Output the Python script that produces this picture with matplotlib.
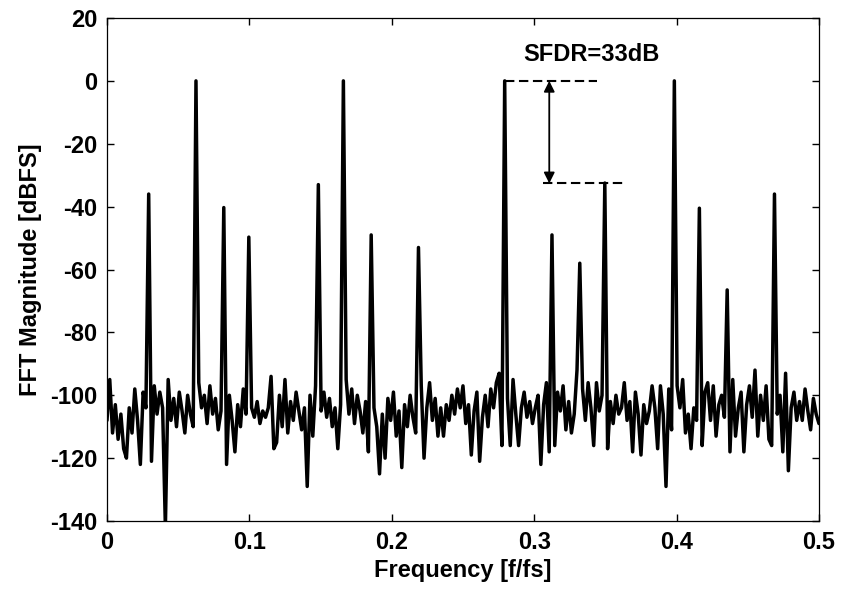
import numpy as np
import matplotlib
matplotlib.use('Agg')
import matplotlib.pyplot as plt

plt.rcParams['font.family'] = ['Liberation Sans', 'DejaVu Sans']
plt.rcParams['font.weight'] = 'bold'
plt.rcParams['axes.unicode_minus'] = False

# FFT bins 0..256 of a 512-point record, f = k / 512
N_FFT = 512

# noise floor, dBFS per bin (rows of 16 bins)
noise_db = [
    -108, -95, -112, -103, -114, -106, -117, -120, -104, -112, -98, -108, -122, -99, -104, -105,
    -121, -97, -106, -99, -104, -142, -95, -108, -101, -110, -99, -105, -112, -100, -106, -110,
    -104, -96, -104, -100, -109, -97, -106, -101, -111, -105, -105, -122, -100, -108, -118, -103,
    -110, -98, -106, -104, -104, -107, -102, -109, -105, -107, -104, -94, -117, -115, -100, -110,
    -95, -112, -102, -108, -99, -105, -111, -104, -129, -100, -113, -97, -105, -105, -99, -107,
    -101, -110, -104, -117, -103, -104, -95, -106, -98, -109, -100, -105, -112, -102, -118, -105,
    -104, -110, -125, -106, -120, -101, -108, -99, -113, -105, -123, -103, -110, -100, -107, -112,
    -105, -97, -120, -104, -96, -108, -101, -113, -104, -113, -103, -108, -100, -106, -98, -104,
    -97, -109, -103, -119, -105, -99, -121, -107, -100, -110, -98, -104, -96, -93, -116, -104,
    -101, -116, -95, -106, -116, -104, -99, -107, -102, -109, -104, -100, -122, -103, -96, -118,
    -104, -116, -99, -105, -97, -111, -102, -112, -106, -92, -104, -98, -108, -96, -104, -116,
    -96, -105, -100, -104, -117, -102, -109, -100, -106, -104, -96, -108, -102, -118, -99, -106,
    -119, -103, -109, -105, -97, -104, -117, -97, -106, -129, -98, -111, -104, -97, -104, -95,
    -112, -106, -117, -104, -108, -104, -116, -99, -96, -108, -97, -113, -103, -100, -107, -104,
    -118, -95, -113, -104, -99, -118, -103, -97, -107, -92, -113, -100, -108, -97, -114, -116,
    -104, -106, -100, -118, -93, -124, -104, -99, -108, -102, -108, -98, -105, -111, -101, -106,
    -109,
]

# tones / spurs: bin index and level in dBFS
spur_bins = [15, 32, 42, 51, 76, 85, 95, 112, 143, 160, 170, 179, 204, 213, 223, 240]
spur_db = [-36, 0, -40.3, -49.7, -33, 0, -49, -53, 0, -49, -58, -32.5, 0, -40.5, -66.5, -36]

freq = np.arange(len(noise_db)) / N_FFT
mag = np.array(noise_db, dtype=float)
mag[spur_bins] = spur_db

fig = plt.figure(figsize=(8.41, 6.04), dpi=100)
ax = fig.add_axes([0.1272, 0.1374, 0.8466, 0.8328])
ax.plot(freq, mag, color='black', lw=2.5, solid_joinstyle='round',
        solid_capstyle='round')

ax.set_xlim(0, 0.5)
ax.set_ylim(-140, 20)
ax.set_xticks([0, 0.1, 0.2, 0.3, 0.4, 0.5])
ax.set_xticklabels(['0', '0.1', '0.2', '0.3', '0.4', '0.5'])
ax.set_yticks(np.arange(-140, 21, 20))
ax.tick_params(direction='in', length=5, width=1, top=True, right=True,
               labelsize=17, pad=7)
for s in ax.spines.values():
    s.set_linewidth(0.9)

ax.set_xlabel('Frequency [f/fs]', fontsize=17, fontweight='bold', labelpad=4)
ax.set_ylabel('FFT Magnitude [dBFS]', fontsize=17, fontweight='bold', labelpad=6)

# SFDR marker
ax.plot([0.2795, 0.3441], [0, 0], color='black', lw=1.5, ls=(0, (4.5, 2.2)))
ax.plot([0.306, 0.364], [-32.6, -32.6], color='black', lw=1.5, ls=(0, (4.5, 2.2)))
ax.annotate('', xy=(0.3106, -32.6), xytext=(0.3106, 0),
            arrowprops=dict(arrowstyle='<|-|>', color='black', lw=1.3,
                            mutation_scale=16, shrinkA=0, shrinkB=0))
ax.text(0.3404, 8.3, 'SFDR=33dB', fontsize=17, fontweight='bold',
        ha='center', va='center')

fig.savefig('out.png', dpi=100)
